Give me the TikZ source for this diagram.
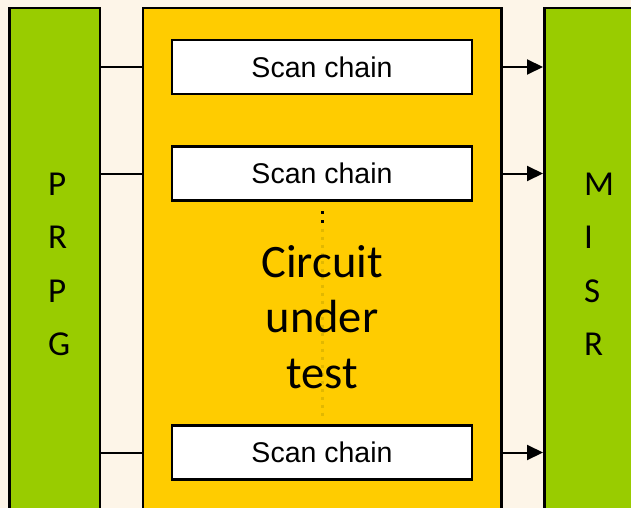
\documentclass[tikz,border=0pt]{standalone}
\usepackage{fontspec}
\setmainfont{Carlito}
\newfontfamily\arialfont{Liberation Sans}
\usetikzlibrary{arrows.meta}

\definecolor{cream}{RGB}{253,245,232}
\definecolor{barlime}{RGB}{153,204,0}
\definecolor{cutyellow}{RGB}{255,204,0}
\definecolor{dotgold}{RGB}{226,184,0}

\tikzset{
  bar/.style={draw=black, line width=2.7pt, fill=barlime, anchor=north west,
    inner sep=0pt, outer sep=0pt, minimum width=90.5pt, minimum height=530pt},
  chain/.style={draw=black, line width=2.5pt, fill=white, inner sep=0pt, outer sep=0pt,
    minimum width=300pt, minimum height=54pt, font=\arialfont\fontsize{28.5}{30}\selectfont},
  letter/.style={anchor=base west, inner sep=0pt, font=\fontsize{35}{40}\selectfont},
  wire/.style={line width=2pt},
}

\begin{document}
\begin{tikzpicture}[x=1pt,y=-1pt]

\useasboundingbox (0,0) rectangle (631,508);
\clip (0,0) rectangle (631,508);
\fill[cream] (0,0) rectangle (631,508);

\node[bar] (prpg) at (9.5,8) {};
\node[bar, fill=cutyellow, minimum width=358.5pt] (cut) at (143,8) {};
\node[bar] (misr) at (544.5,8) {};

\foreach \ch [count=\i] in {P,R,P,G}
  \node[letter] (prpg\i) at (48,{195+53.5*(\i-1)}) {\ch};
\foreach \ch [count=\i] in {M,I,S,R}
  \node[letter] (misr\i) at (584,{195+53.5*(\i-1)}) {\ch};

\fill (320.5,210.5) rectangle (323.5,213.5);
\fill (320.5,219.5) rectangle (323.5,222.5);
\draw[dotgold, line width=3pt, dash pattern=on 3pt off 5pt] (322,228.5) -- (322,416);

\node[align=center, inner sep=0pt, font=\fontsize{46.5}{55.5}\selectfont] (cuttxt) at (322,317) {Circuit\\under\\test};

\node[chain] (s1) at (322,67) {Scan chain};
\node[chain] (s2) at (322,173.5) {Scan chain};
\node[chain] (s3) at (322,452.5) {Scan chain};

\foreach \s in {s1,s2,s3} {
  \draw[wire] (prpg.east |- \s) -- (cut.west |- \s);
  \draw[wire, -{Triangle[length=16pt,width=15pt]}, shorten >=1.5pt] (cut.east |- \s) -- (misr.west |- \s);
}

\end{tikzpicture}
\end{document}
